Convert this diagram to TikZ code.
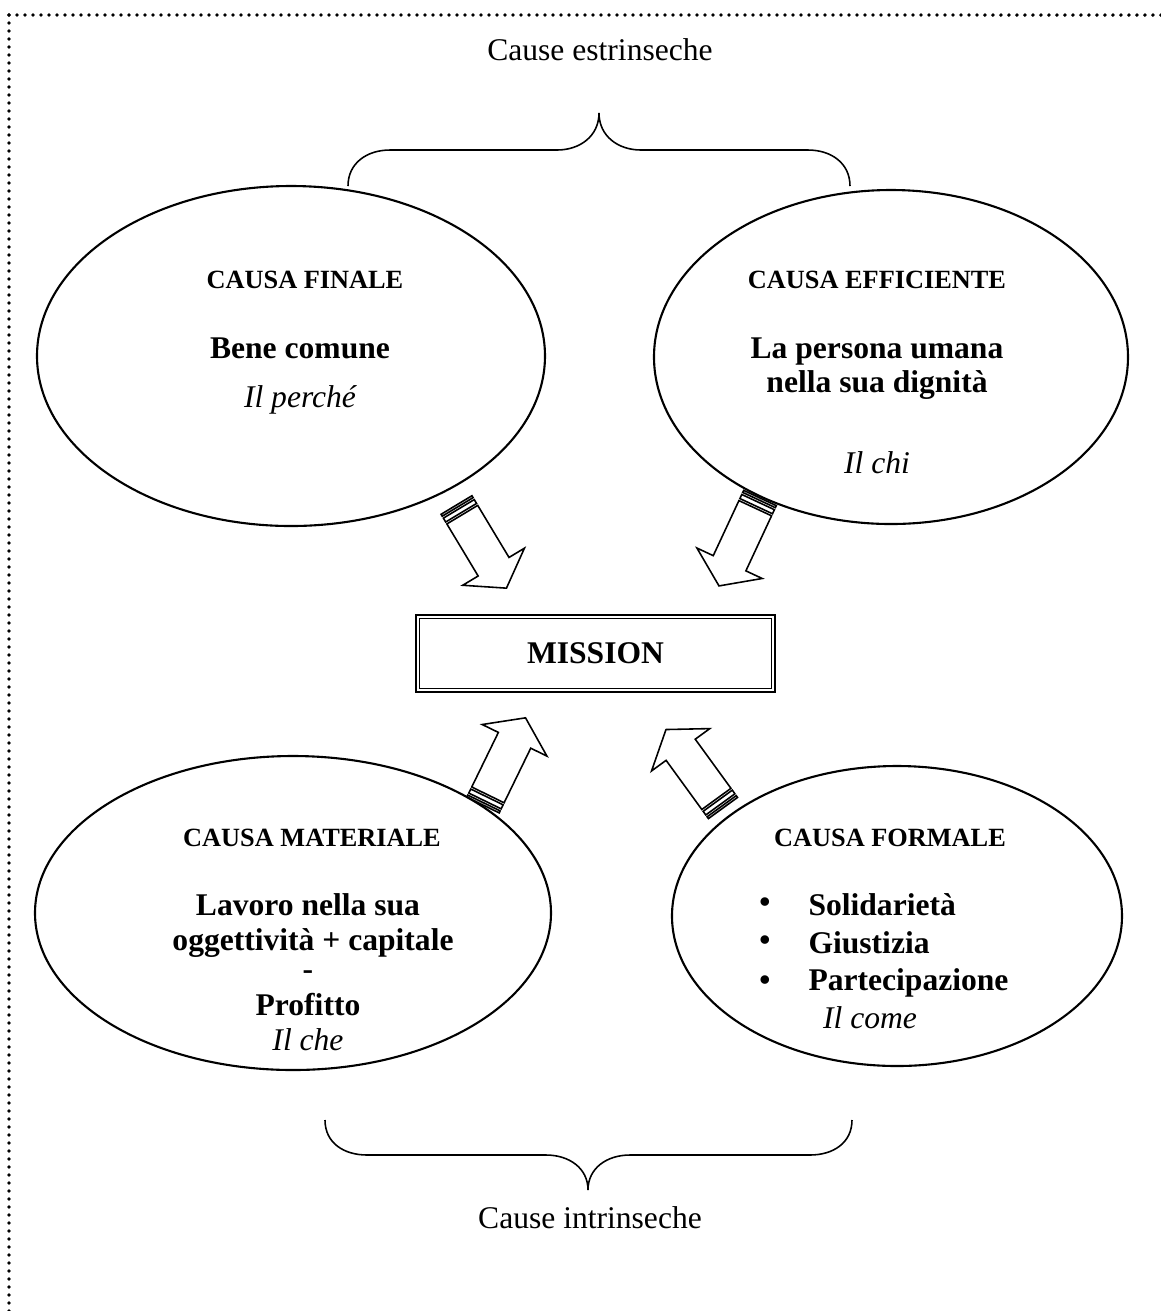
\documentclass[tikz,border=0pt]{standalone}
\usepackage{fontspec}
\setmainfont{Liberation Serif}
\usetikzlibrary{shapes.geometric}

% striped block arrow: tail at (#1,#2), pointing at angle #3
\newcommand{\stripedarrow}[3]{%
  \begin{scope}[shift={(#1,#2)},rotate=#3]
    \draw[blockarrow] (0,-18) rectangle (2.25,18);
    \draw[blockarrow] (4.5,-18) rectangle (9,18);
    \draw[blockarrow] (11.25,-18) -- (72,-18) -- (72,-36) -- (97,0) -- (72,36) -- (72,18) -- (11.25,18) -- cycle;
  \end{scope}}

\begin{document}
\begin{tikzpicture}[x=0.38pt,y=-0.38pt]
	\tikzstyle{causa}=[ellipse,draw,line width=0.8pt,inner sep=0pt]
	\tikzstyle{blockarrow}=[line width=0.6pt,line join=miter]
	\tikzstyle{brace}=[line width=0.6pt]
	\tikzstyle{border}=[line width=1.5pt,line cap=round,dash pattern=on 0pt off 3.04pt]
	\tikzstyle{head}=[font=\fontsize{10}{12}\selectfont\bfseries,inner sep=0pt]
	\tikzstyle{main}=[font=\fontsize{12}{14}\selectfont\bfseries,inner sep=0pt]
	\tikzstyle{how}=[font=\fontsize{12}{14}\selectfont\itshape,inner sep=0pt]
	\tikzstyle{side}=[font=\fontsize{12}{14}\selectfont,inner sep=0pt]

	\def \rowA{280}
	\def \rowB{838}

	\useasboundingbox (0,0) rectangle (1161,1311);
	\draw[border] (9,15) -- (1161,15);
	\draw[border] (9,15) -- (9,1311);

	\node[side] (estr) at (600,50) {Cause estrinseche};
	\draw[brace] (348,186) .. controls (348,163) and (367,150) .. (390,150) -- (557,150)
		.. controls (580,150) and (599,136) .. (599,113)
		.. controls (599,136) and (618,150) .. (641,150) -- (808,150)
		.. controls (831,150) and (850,163) .. (850,186);

	\node[causa,minimum width={508*0.38pt},minimum height={340*0.38pt}] (finale) at (291,356) {};
	\node[causa,minimum width={474*0.38pt},minimum height={334*0.38pt}] (efficiente) at (891,357) {};
	\node[causa,minimum width={516*0.38pt},minimum height={314*0.38pt}] (materiale) at (293,913) {};
	\node[causa,minimum width={450*0.38pt},minimum height={300*0.38pt}] (formale) at (897,916) {};

	\node[head] (hfin) at (305,\rowA) {CAUSA FINALE};
	\node[main] (bene) at (300,348) {Bene comune};
	\node[how] (perche) at (300,400) {Il perché};

	\node[head] (heff) at (877,\rowA) {CAUSA EFFICIENTE};
	\node[main] (pers1) at (877,352) {La persona umana};
	\node[main] (pers2) at (877,385) {nella sua dignità};
	\node[how] (chi) at (877,463) {Il chi};

	\node[head] (hmat) at (312,\rowB) {CAUSA MATERIALE};
	\node[main] (lav1) at (308,905) {Lavoro nella sua};
	\node[main] (lav2) at (313,943) {oggettività + capitale};
	\node[main] (meno) at (308,975) {-};
	\node[main] (prof) at (308,1005) {Profitto};
	\node[how] (che) at (308,1040) {Il che};

	\node[head] (hfor) at (890,\rowB) {CAUSA FORMALE};
	\node[main] (b1) at (765,905) {\textbullet};
	\node[main] (b2) at (765,943) {\textbullet};
	\node[main] (b3) at (765,983) {\textbullet};
	\node[main,anchor=west] (sol) at (808,905) {Solidarietà};
	\node[main,anchor=west] (giu) at (808,943) {Giustizia};
	\node[main,anchor=west] (par) at (808,983) {Partecipazione};
	\node[how] (come) at (870,1018) {Il come};

	\node[main,draw,line width=1.1pt,minimum width={359*0.38pt},minimum height={77*0.38pt}] (mission) at (595.5,653.5) {MISSION};
	\draw[line width=0.55pt] ([shift={(5,5)}]mission.north west) rectangle ([shift={(-5,-5)}]mission.south east);

	\stripedarrow{456.5}{505}{-59}
	\stripedarrow{760}{498}{-115}
	\stripedarrow{483}{805}{64}
	\stripedarrow{723}{808}{126}

	\draw[brace] (325,1120) .. controls (325,1143) and (344,1155) .. (367,1155) -- (546,1155)
		.. controls (569,1155) and (588,1168) .. (588,1190)
		.. controls (588,1168) and (607,1155) .. (630,1155) -- (810,1155)
		.. controls (833,1155) and (852,1143) .. (852,1120);
	\node[side] (intr) at (590,1218) {Cause intrinseche};
\end{tikzpicture}
\end{document}
